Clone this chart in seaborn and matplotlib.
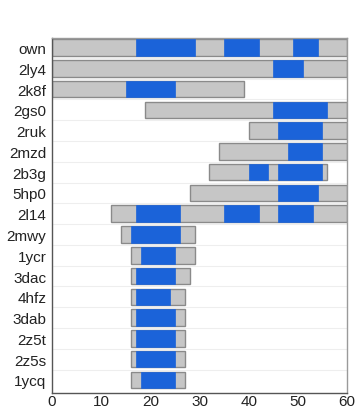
import matplotlib
matplotlib.use("Agg")
import matplotlib.pyplot as plt
import seaborn as sns
import pandas as pd
from matplotlib.ticker import MultipleLocator

categories = ["own", "2ly4", "2k8f", "2gs0", "2ruk", "2mzd", "2b3g", "5hp0", "2l14",
              "2mwy", "1ycr", "3dac", "4hfz", "3dab", "2z5t", "2z5s", "1ycq"]
gray_start = [0, 0, 0, 19, 40, 34, 32, 28, 12, 14, 16, 16, 16, 16, 16, 16, 16]
gray_end = [60, 60, 39, 60, 60, 60, 56, 60, 60, 29, 29, 28, 27, 27, 27, 27, 27]
blue_segments = [
    [(17, 29), (35, 42), (49, 54)],
    [(45, 51)],
    [(15, 25)],
    [(45, 56)],
    [(46, 55)],
    [(48, 55)],
    [(40, 44), (46, 55)],
    [(46, 54)],
    [(17, 26), (35, 42), (46, 53)],
    [(16, 26)],
    [(18, 25)],
    [(17, 25)],
    [(17, 24)],
    [(17, 25)],
    [(17, 25)],
    [(17, 25)],
    [(18, 25)],
]
x_ticks = [0, 10, 20, 30, 40, 50, 60]

sns.set_theme(style="white")
plt.rcParams["font.family"] = ["Liberation Sans", "DejaVu Sans"]

gray_df = pd.DataFrame({"name": categories, "start": gray_start, "end": gray_end})
blue_rows = []
for name, segs in zip(categories, blue_segments):
    for s, e in segs:
        blue_rows.append({"name": name, "start": s, "end": e})
blue_df = pd.DataFrame(blue_rows)

fig = plt.figure(figsize=(3.56, 4.14), dpi=100)
ax = fig.add_axes([52 / 356, 20 / 414, 295 / 356, 355 / 414])

pos = {c: i for i, c in enumerate(categories)}
h = 0.8
ax.barh([pos[n] for n in gray_df["name"]], gray_df["end"] - gray_df["start"],
        left=gray_df["start"], height=h, color="#c6c6c6", edgecolor="#8a8a8a",
        linewidth=1.0, zorder=2)
ax.barh([pos[n] for n in blue_df["name"]], blue_df["end"] - blue_df["start"],
        left=blue_df["start"], height=h, color="#1b63d9", edgecolor="#1b63d9",
        linewidth=0.5, zorder=3)

ax.set_xlim(0, 60)
ax.set_ylim(16.63, -0.46)
ax.set_yticks(range(len(categories)))
ax.set_yticklabels(categories, fontsize=11, color="#222222")
ax.set_yticks([i + 0.5 for i in range(len(categories) - 1)], minor=True)
ax.set_xticks(x_ticks)
ax.set_xticklabels([str(t) for t in x_ticks], fontsize=11, color="#222222")
ax.xaxis.set_minor_locator(MultipleLocator(2))
ax.tick_params(axis="y", which="major", length=0, pad=4)
ax.tick_params(axis="y", which="minor", length=3, direction="in", color="#555555", width=0.8)
ax.tick_params(axis="x", which="major", length=4, direction="in", color="#555555", width=0.8, pad=1)
ax.tick_params(axis="x", which="minor", length=2, direction="in", color="#555555", width=0.8)
ax.grid(True, axis="y", which="minor", color="#eeeeee", linewidth=0.8, zorder=0)
ax.grid(False, which="major")
for side in ["left", "bottom"]:
    ax.spines[side].set_color("#555555")
    ax.spines[side].set_linewidth(1.0)
for side in ["top", "right"]:
    ax.spines[side].set_color("#9a9a9a")
    ax.spines[side].set_linewidth(1.0)

fig.savefig("out.png", dpi=100)
